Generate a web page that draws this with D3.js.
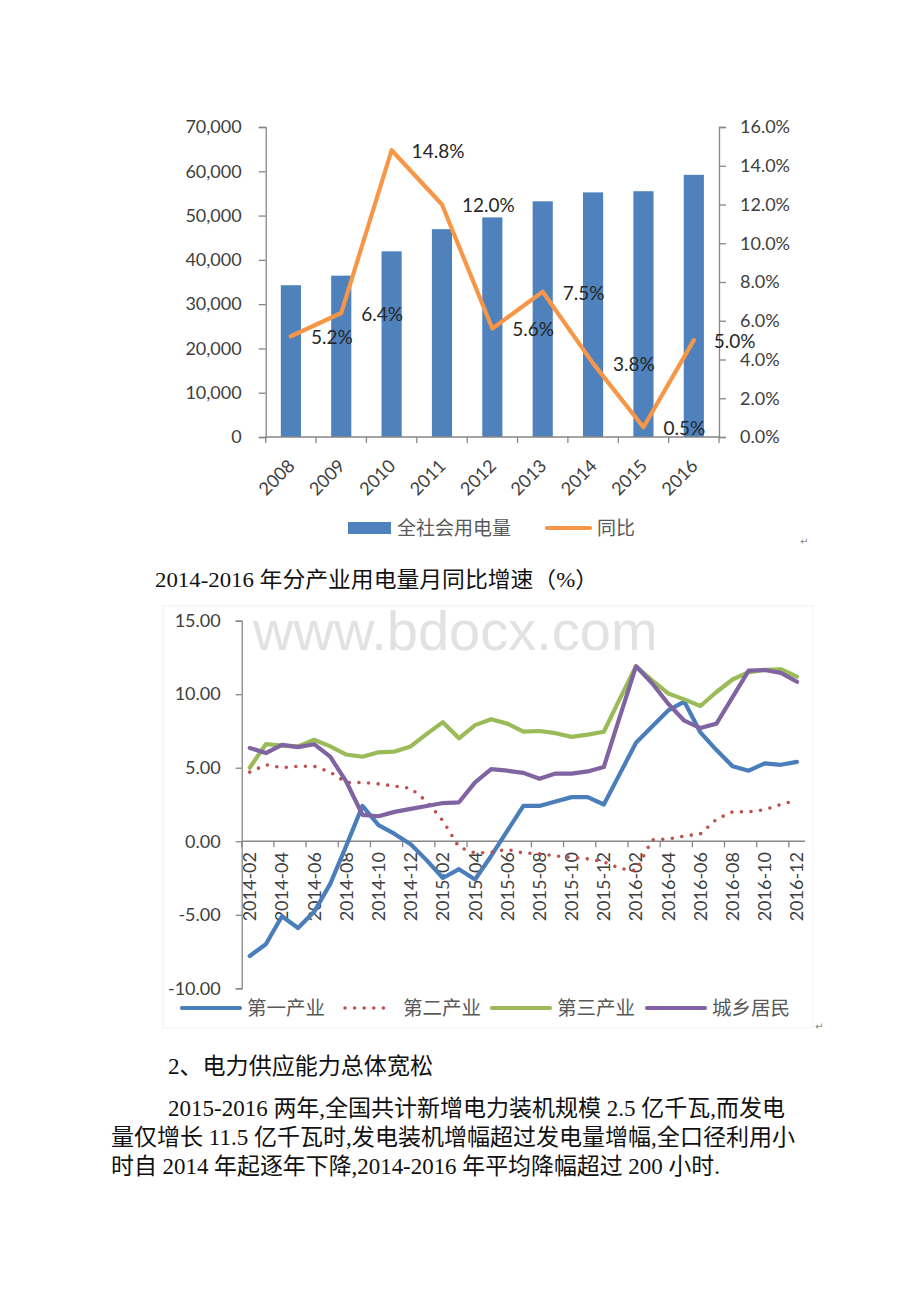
<!DOCTYPE html>
<html><head><meta charset="utf-8">
<script src="https://cdn.jsdelivr.net/npm/d3@7"></script>
<style>
body{margin:0;background:#fff;}
svg{display:block;}
</style></head>
<body>
<svg id="c" width="920" height="1302"></svg>
<script>
// ---------- Chart 1 data ----------
const years = ["2008","2009","2010","2011","2012","2013","2014","2015","2016"];
const consumption = [34268, 36430, 41923, 46928, 49591, 53223, 55233, 55500, 59198];
const growth = [5.2, 6.4, 14.8, 12.0, 5.6, 7.5, 3.8, 0.5, 5.0];
const leftTicks = [0, 10000, 20000, 30000, 40000, 50000, 60000, 70000];
const rightTicks = [0, 2, 4, 6, 8, 10, 12, 14, 16];
const legend1 = ["全社会用电量", "同比"];

// ---------- Chart 2 data ----------
const months = ["2014-02","2014-03","2014-04","2014-05","2014-06","2014-07","2014-08","2014-09","2014-10","2014-11","2014-12",
  "2015-01","2015-02","2015-03","2015-04","2015-05","2015-06","2015-07","2015-08","2015-09","2015-10","2015-11","2015-12",
  "2016-01","2016-02","2016-03","2016-04","2016-05","2016-06","2016-07","2016-08","2016-09","2016-10","2016-11","2016-12"];
const primary = [-7.8,-7.0,-5.1,-5.9,-4.8,-2.9,-0.3,2.4,1.1,0.5,-0.2,-1.3,-2.5,-1.9,-2.6,-1.0,0.7,2.4,2.4,2.7,3.0,3.0,2.5,4.6,6.7,7.8,8.9,9.5,7.4,6.2,5.1,4.8,5.3,5.2,5.4];
const secondary = [4.7,5.2,5.0,5.1,5.1,4.7,4.0,4.0,3.9,3.75,3.6,2.7,1.4,-0.4,-0.8,-0.75,-0.55,-0.8,-0.85,-1.0,-1.1,-1.2,-1.4,-1.85,-2.0,0.1,0.15,0.35,0.5,1.5,2.0,2.0,2.15,2.5,2.8];
const tertiary = [5.0,6.6,6.5,6.45,6.9,6.45,5.9,5.75,6.05,6.1,6.45,7.3,8.1,7.0,7.9,8.3,8.0,7.45,7.5,7.35,7.1,7.25,7.45,9.7,11.9,10.95,10.05,9.65,9.2,10.15,11.0,11.5,11.65,11.7,11.2];
const residential = [6.35,6.0,6.55,6.4,6.6,5.75,4.05,1.8,1.7,2.0,2.2,2.4,2.6,2.65,4.0,4.9,4.8,4.65,4.25,4.6,4.6,4.75,5.05,8.5,11.9,10.75,9.35,8.2,7.7,8.0,9.8,11.6,11.65,11.45,10.85];
const seriesNames = ["第一产业", "第二产业", "第三产业", "城乡居民"];
const yTicks2 = [-10, -5, 0, 5, 10, 15];

// ---------- Text ----------
const caption = "2014-2016 年分产业用电量月同比增速（%）";
const heading = "2、电力供应能力总体宽松";
const para = [
  "2015-2016 两年,全国共计新增电力装机规模 2.5 亿千瓦,而发电",
  "量仅增长 11.5 亿千瓦时,发电装机增幅超过发电量增幅,全口径利用小",
  "时自 2014 年起逐年下降,2014-2016 年平均降幅超过 200 小时."
];

const NUM = "Lato, 'Open Sans', sans-serif";
const CJK = "'Noto Sans CJK SC', sans-serif";
const SERIF = "'Liberation Serif', 'Noto Sans CJK SC', serif";
const AXIS = "#868686", LBL = "#404040", LEG = "#595959";

const svg = d3.select("#c");

// ================= Chart 1 =================
const g1 = svg.append("g");
const x1 = d3.scaleBand().domain(years).range([265.7, 719]).paddingInner(0.6).paddingOuter(0.3);
const yL = d3.scaleLinear().domain([0, 70000]).range([437, 127]);
const yR = d3.scaleLinear().domain([0, 16]).range([437, 127]);

g1.selectAll("rect.bar").data(consumption).join("rect")
  .attr("x", (d, i) => x1(years[i])).attr("width", x1.bandwidth())
  .attr("y", d => yL(d)).attr("height", d => yL(0) - yL(d))
  .attr("fill", "#4F81BD");

const aL = g1.append("g").attr("transform", "translate(265.7,0)")
  .call(d3.axisLeft(yL).tickValues(leftTicks).tickFormat(d3.format(",")).tickSize(7).tickPadding(17));
const aR = g1.append("g").attr("transform", "translate(719,0)")
  .call(d3.axisRight(yR).tickValues(rightTicks).tickFormat(d => d.toFixed(1) + "%").tickSize(7).tickPadding(14));
[aL, aR].forEach(a => {
  a.select(".domain").attr("stroke", AXIS).attr("stroke-width", 1.3);
  a.selectAll(".tick line").attr("stroke", AXIS).attr("stroke-width", 1.3);
  a.selectAll(".tick text").attr("fill", LBL).style("font-family", NUM).style("font-size", "18px");
});
g1.append("line").attr("x1", x1.range()[0]).attr("x2", x1.range()[1]).attr("y1", yL(0)).attr("y2", yL(0))
  .attr("stroke", AXIS).attr("stroke-width", 1.3);
g1.selectAll("line.bt").data(d3.range(years.length + 1)).join("line")
  .attr("x1", k => x1.range()[0] + k * x1.step()).attr("x2", k => x1.range()[0] + k * x1.step())
  .attr("y1", yL(0)).attr("y2", yL(0) + 6).attr("stroke", AXIS).attr("stroke-width", 1.3);
g1.selectAll("text.yr").data(years).join("text")
  .attr("transform", d => `translate(${x1(d) + x1.bandwidth() / 2 + 5},467) rotate(-45)`)
  .attr("text-anchor", "end").attr("fill", LBL)
  .style("font-family", NUM).style("font-size", "18px").text(d => d);

const line1 = d3.line().x((d, i) => x1(years[i]) + x1.bandwidth() / 2).y(d => yR(d));
g1.append("path").datum(growth).attr("d", line1).attr("fill", "none")
  .attr("stroke", "#F79646").attr("stroke-width", 4.2).attr("stroke-linejoin", "round").attr("stroke-linecap", "round");
g1.selectAll("text.dl").data(growth).join("text")
  .attr("x", (d, i) => x1(years[i]) + x1.bandwidth() / 2 + 20)
  .attr("y", d => yR(d) + 1).attr("dy", "0.36em")
  .attr("fill", "#262626").style("font-family", NUM).style("font-size", "19px")
  .text(d => d.toFixed(1) + "%");

g1.append("rect").attr("x", 348).attr("y", 522).attr("width", 43).attr("height", 12).attr("fill", "#4F81BD");
g1.append("text").attr("x", 397).attr("y", 528).attr("dy", "0.36em").attr("fill", LEG)
  .style("font-family", CJK).style("font-size", "19px").text(legend1[0]);
g1.append("line").attr("x1", 547).attr("x2", 590).attr("y1", 528).attr("y2", 528)
  .attr("stroke", "#F79646").attr("stroke-width", 4.2).attr("stroke-linecap", "round");
g1.append("text").attr("x", 597).attr("y", 528).attr("dy", "0.36em").attr("fill", LEG)
  .style("font-family", CJK).style("font-size", "19px").text(legend1[1]);
g1.append("text").attr("x", 800).attr("y", 545).attr("fill", "#888")
  .style("font-family", "'DejaVu Sans'").style("font-size", "10px").text("↵");

svg.append("text").attr("x", 155).attr("y", 587).attr("fill", "#111")
  .attr("textLength", 443).attr("lengthAdjust", "spacingAndGlyphs")
  .style("font-family", SERIF).style("font-size", "22px").text(caption);

// ================= Chart 2 =================
const g2 = svg.append("g");
g2.append("rect").attr("x", 163).attr("y", 606).attr("width", 650).attr("height", 422)
  .attr("fill", "none").attr("stroke", "#f2f2f2").attr("stroke-width", 1);
g2.append("text").attr("x", 253).attr("y", 650).attr("fill", "#e2e2e2")
  .style("font-family", "'Liberation Sans', Arial, sans-serif").style("font-size", "56px").text("www.bdocx.com");

const x2 = d3.scaleBand().domain(months).range([241.7, 805]).padding(0);
const y2 = d3.scaleLinear().domain([-10, 15]).range([988.3, 620.7]);
const cx2 = i => x2(months[i]) + x2.bandwidth() / 2;

const aY2 = g2.append("g").attr("transform", "translate(241.7,0)")
  .call(d3.axisLeft(y2).tickValues(yTicks2).tickFormat(d => d.toFixed(2)).tickSize(6).tickPadding(15));
aY2.select(".domain").attr("stroke", AXIS).attr("stroke-width", 1.3);
aY2.selectAll(".tick line").attr("stroke", AXIS).attr("stroke-width", 1.3);
aY2.selectAll(".tick text").attr("fill", LBL).style("font-family", NUM).style("font-size", "18px");

g2.append("line").attr("x1", x2.range()[0]).attr("x2", x2.range()[1]).attr("y1", y2(0)).attr("y2", y2(0))
  .attr("stroke", AXIS).attr("stroke-width", 1.3);
g2.selectAll("line.mt").data(d3.range(0, months.length, 2)).join("line")
  .attr("x1", k => x2.range()[0] + k * x2.step()).attr("x2", k => x2.range()[0] + k * x2.step())
  .attr("y1", y2(0)).attr("y2", y2(0) + 6).attr("stroke", AXIS).attr("stroke-width", 1.3);
g2.selectAll("text.ml").data(months.filter((m, i) => i % 2 === 0)).join("text")
  .attr("transform", d => `translate(${x2(d) + x2.bandwidth() / 2},852) rotate(-90)`)
  .attr("text-anchor", "end").attr("dy", "0.36em").attr("fill", LBL)
  .style("font-family", NUM).style("font-size", "18px").text(d => d);

const line2 = d3.line().x((d, i) => cx2(i)).y(d => y2(d));
const styles = [
  {data: primary, color: "#4A7EBB", dash: null, w: 4.2},
  {data: secondary, color: "#C0504D", dash: "0 9.6", w: 3.6},
  {data: tertiary, color: "#9BBB59", dash: null, w: 4.2},
  {data: residential, color: "#8064A2", dash: null, w: 4.2}
];
styles.forEach(s => {
  g2.append("path").datum(s.data).attr("d", line2).attr("fill", "none")
    .attr("stroke", s.color).attr("stroke-width", s.w).attr("stroke-linejoin", "round")
    .attr("stroke-linecap", "round").attr("stroke-dasharray", s.dash);
});

const leg2 = [
  {lx: 182, tx: 247},
  {lx: 345, tx: 403},
  {lx: 492, tx: 557},
  {lx: 647, tx: 712}
];
leg2.forEach((p, i) => {
  const s = styles[i];
  g2.append("line").attr("x1", p.lx).attr("x2", p.lx + (i === 1 ? 42 : 58)).attr("y1", 1008).attr("y2", 1008)
    .attr("stroke", s.color).attr("stroke-width", s.w).attr("stroke-linecap", "round")
    .attr("stroke-dasharray", s.dash);
  g2.append("text").attr("x", p.tx).attr("y", 1008).attr("dy", "0.36em").attr("fill", LEG)
    .style("font-family", CJK).style("font-size", "19.5px").text(seriesNames[i]);
});
g2.append("text").attr("x", 815).attr("y", 1030).attr("fill", "#888")
  .style("font-family", "'DejaVu Sans'").style("font-size", "10px").text("↵");

// ================= Text =================
svg.append("text").attr("x", 168).attr("y", 1074).attr("fill", "#111")
  .attr("textLength", 265).attr("lengthAdjust", "spacingAndGlyphs")
  .style("font-family", SERIF).style("font-size", "23px").text(heading);
const paraX = [168, 111, 111], paraW = [617, 684, 609], paraY = [1116, 1145, 1174];
para.forEach((t, i) => {
  svg.append("text").attr("x", paraX[i]).attr("y", paraY[i]).attr("fill", "#111")
    .attr("textLength", paraW[i]).attr("lengthAdjust", "spacingAndGlyphs")
    .style("font-family", SERIF).style("font-size", "23px").text(t);
});
</script>
</body></html>
